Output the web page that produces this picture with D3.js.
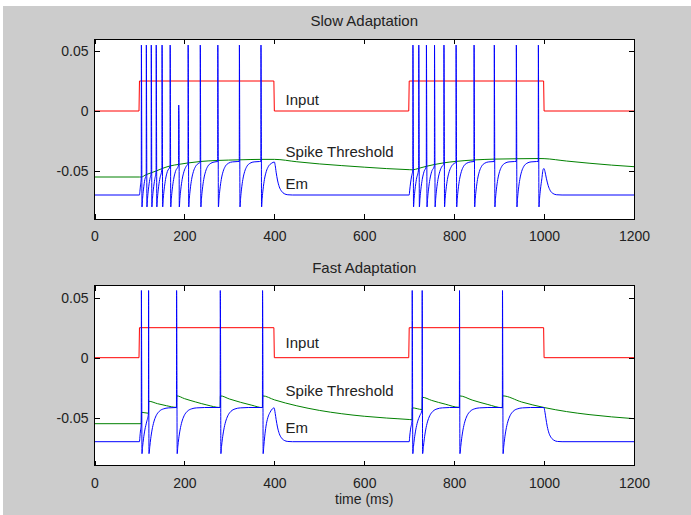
<!DOCTYPE html>
<html>
<head>
<meta charset="utf-8">
<script src="https://cdn.jsdelivr.net/npm/d3@7"></script>
<style>
  html, body { margin: 0; padding: 0; background: #ffffff; }
  svg { display: block; font-family: "Liberation Sans", Arial, Helvetica, sans-serif; }
  .axis path { display: none; }
  .axis line { stroke: #000; shape-rendering: crispEdges; }
  .axis text { fill: #222; font-size: 14px; }
</style>
</head>
<body>
<svg id="fig"></svg>
<script>
// axis ticks
const xTicks = [0, 200, 400, 600, 800, 1000, 1200];
const xTickLabels = ["0", "200", "400", "600", "800", "1000", "1200"];
const yTicks = [0.05, 0, -0.05];
const yTickLabels = ["0.05", "0", "-0.05"];

// panel titles and trace labels
const titles = ["Slow Adaptation", "Fast Adaptation"];
const traceLabels = ["Input", "Spike Threshold", "Em"];
const labelT = 425;
const labelYSlow = [0.0095, -0.034, -0.0605];
const labelYFast = [0.013, -0.027, -0.058];

// input current (same in both panels)
const inputTrace = [[0,0],[99,0],[100,0.025],[399,0.025],[400,0],[699,0],[700,0.025],[999,0.025],[1000,0],[1200,0]];

// slow adaptation: spike threshold
const thSlow = [[0,-0.055],[100,-0.055],[104,-0.055],[115,-0.053],[126,-0.0515],[137,-0.050],[150,-0.048],[168,-0.0458],
  [187,-0.0445],[208,-0.0433],[235,-0.0421],[274,-0.0412],[322,-0.0407],[370,-0.0403],[400,-0.0403],[450,-0.0423],
  [500,-0.0441],[550,-0.0455],[600,-0.0468],[650,-0.048],[700,-0.0489],[708,-0.049],[721,-0.0478],[738,-0.0461],
  [756,-0.0446],[777,-0.0432],[804,-0.042],[844,-0.0408],[889,-0.0401],[938,-0.0398],[987,-0.0396],[1000,-0.0397],
  [1050,-0.0417],[1100,-0.0435],[1150,-0.0451],[1200,-0.0464]];

// slow adaptation: membrane potential
const emSlow = [[0,-0.07],[100,-0.07],[101,-0.067],[102.5,-0.061],[104,-0.055],
  [104.3,0.055],[105,-0.013],[105.6,-0.08],[107,-0.0727],[109,-0.0651],[112,-0.057],[115,-0.053],
  [115.3,0.055],[116,-0.013],[116.6,-0.08],[118,-0.0727],[120,-0.0651],[123,-0.057],[126,-0.0515],
  [126.3,0.055],[127,-0.013],[127.6,-0.08],[129,-0.0727],[131,-0.0651],[134,-0.057],[137,-0.050],
  [137.3,0.055],[138,-0.013],[138.6,-0.08],[140,-0.0727],[142,-0.0651],[145,-0.057],[150,-0.048],
  [150.3,0.055],[151,-0.013],[151.6,-0.08],[153,-0.0727],[155,-0.0651],[158,-0.057],[162,-0.0505],[168,-0.046],
  [168.3,0.055],[169,-0.013],[169.6,-0.08],[171,-0.0727],[173,-0.0651],[176,-0.057],[180,-0.0505],[187,-0.045],
  [187.3,0.005],[188,-0.013],[188.6,-0.08],[190,-0.0727],[192,-0.0651],[195,-0.057],[199,-0.0505],[204,-0.0461],[208,-0.0438],
  [208.3,0.055],[209,-0.013],[209.6,-0.08],[211,-0.0727],[213,-0.0651],[216,-0.057],[220,-0.0505],[225,-0.0461],[232,-0.0435],[235,-0.0428],
  [235.3,0.055],[236,-0.013],[236.6,-0.08],[238,-0.0727],[240,-0.0651],[243,-0.057],[247,-0.0505],[252,-0.0461],[259,-0.0435],[268,-0.0424],[274,-0.0421],
  [274.3,0.055],[275,-0.013],[275.6,-0.08],[277,-0.0727],[279,-0.0651],[282,-0.057],[286,-0.0505],[291,-0.0461],[298,-0.0435],[307,-0.0424],[319,-0.0421],[322,-0.042],
  [322.3,0.055],[323,-0.013],[323.6,-0.08],[325,-0.0727],[327,-0.0651],[330,-0.057],[334,-0.0505],[339,-0.0461],[346,-0.0435],[355,-0.0424],[367,-0.0421],[370,-0.042],
  [370.3,0.055],[371,-0.013],[371.6,-0.08],[373,-0.0727],[375,-0.0651],[378,-0.057],[382,-0.0505],[387,-0.0461],[394,-0.0435],[400,-0.0425],
  [402,-0.0455],[404,-0.051],[407,-0.0575],[411,-0.0632],[416,-0.0668],[422,-0.0689],[430,-0.0698],[440,-0.07],[700,-0.07],
  [701,-0.0665],[703,-0.06],[705.5,-0.054],[708,-0.049],
  [708.3,0.055],[709,-0.013],[709.6,-0.08],[711,-0.0727],[713,-0.0651],[716,-0.057],[721,-0.048],
  [721.3,0.055],[722,-0.013],[722.6,-0.08],[724,-0.0727],[726,-0.0651],[729,-0.057],[733,-0.0505],[738,-0.046],
  [738.3,0.055],[739,-0.013],[739.6,-0.08],[741,-0.0727],[743,-0.0651],[746,-0.057],[750,-0.0505],[756,-0.0455],
  [756.3,0.055],[757,-0.013],[757.6,-0.08],[759,-0.0727],[761,-0.0651],[764,-0.057],[768,-0.0505],[773,-0.0461],[777,-0.0445],
  [777.3,0.055],[778,-0.013],[778.6,-0.08],[780,-0.0727],[782,-0.0651],[785,-0.057],[789,-0.0505],[794,-0.0461],[801,-0.0435],[804,-0.043],
  [804.3,0.055],[805,-0.013],[805.6,-0.08],[807,-0.0727],[809,-0.0651],[812,-0.057],[816,-0.0505],[821,-0.0461],[828,-0.0435],[837,-0.0424],[844,-0.0421],
  [844.3,0.055],[845,-0.013],[845.6,-0.08],[847,-0.0727],[849,-0.0651],[852,-0.057],[856,-0.0505],[861,-0.0461],[868,-0.0435],[877,-0.0424],[889,-0.0421],
  [889.3,0.055],[890,-0.013],[890.6,-0.08],[892,-0.0727],[894,-0.0651],[897,-0.057],[901,-0.0505],[906,-0.0461],[913,-0.0435],[922,-0.0424],[934,-0.0421],[938,-0.042],
  [938.3,0.055],[939,-0.013],[939.6,-0.08],[941,-0.0727],[943,-0.0651],[946,-0.057],[950,-0.0505],[955,-0.0461],[962,-0.0435],[971,-0.0424],[983,-0.0421],[987,-0.042],
  [987.3,0.055],[988,-0.013],[988.6,-0.08],[990,-0.0727],[992,-0.0651],[995,-0.0565],[998,-0.0485],[1000,-0.048],
  [1002,-0.0505],[1005,-0.056],[1009,-0.062],[1014,-0.0665],[1020,-0.0688],[1028,-0.0698],[1040,-0.07],[1200,-0.07]];

// fast adaptation: spike threshold
const thFast = [[0,-0.055],[104,-0.055],[104.5,-0.0455],[120,-0.0463],[120.5,-0.0363],[140,-0.0383],[160,-0.04],[182.3,-0.0414],
  [182.8,-0.0318],[200,-0.0341],[225,-0.0369],[250,-0.0394],[279.5,-0.0415],[280,-0.0318],[300,-0.0344],[325,-0.0372],
  [350,-0.0396],[373.5,-0.0416],[374,-0.0318],[400,-0.0351],[450,-0.0401],[500,-0.0439],[550,-0.0467],[600,-0.0488],
  [650,-0.0503],[700,-0.0515],[706.4,-0.0517],[706.9,-0.0418],[728.6,-0.0432],[729.1,-0.033],[750,-0.0356],[780,-0.0387],
  [811.6,-0.0414],[812.1,-0.0318],[840,-0.0353],[875,-0.039],[907.2,-0.0417],[907.7,-0.0318],[950,-0.0369],[1000,-0.0415],
  [1050,-0.0449],[1100,-0.0474],[1150,-0.0493],[1200,-0.0508]];

// fast adaptation: membrane potential
const emFast = [[0,-0.07],[100,-0.07],[101,-0.066],[102.5,-0.06],[104,-0.055],
  [104.3,0.056],[105,-0.0125],[105.6,-0.08],[107,-0.0741],[109,-0.0676],[112,-0.0602],[116,-0.0535],[120,-0.0465],
  [120.3,0.056],[121.2,-0.08],[123,-0.0741],[125,-0.0676],[128,-0.0602],[132,-0.0535],[137,-0.0484],[144,-0.0447],[153,-0.0427],[165,-0.0418],[182.3,-0.0415],
  [182.6,0.056],[183.3,-0.0125],[183.9,-0.08],[185.3,-0.0741],[187.3,-0.0676],[190.3,-0.0602],[194.3,-0.0535],[199.3,-0.0484],[206.3,-0.0447],[215.3,-0.0427],[227.3,-0.0418],[245,-0.0415],[279.5,-0.0415],
  [279.8,0.056],[280.5,0.005],[281.1,-0.08],[282.5,-0.0741],[284.5,-0.0676],[287.5,-0.0602],[291.5,-0.0535],[296.5,-0.0484],[303.5,-0.0447],[312.5,-0.0427],[324.5,-0.0418],[342,-0.0415],[373.5,-0.0415],
  [373.8,0.056],[374.5,0.005],[375.1,-0.08],[376.5,-0.074],[378.5,-0.066],[381.5,-0.057],[385.5,-0.050],[390.5,-0.0455],[396,-0.0425],[399.5,-0.0418],
  [402,-0.0465],[404,-0.0515],[407,-0.0578],[411,-0.0633],[416,-0.0669],[422,-0.0689],[430,-0.0698],[440,-0.07],[700,-0.07],
  [701,-0.066],[703,-0.0595],[706.4,-0.0517],
  [706.7,0.056],[707.4,-0.0125],[708,-0.08],[709.5,-0.0741],[711.5,-0.0676],[714.5,-0.0602],[718.5,-0.0535],[723.5,-0.0484],[728.6,-0.0435],
  [728.9,0.056],[729.8,-0.08],[731.6,-0.0741],[733.6,-0.0676],[736.6,-0.0602],[740.6,-0.0535],[745.6,-0.0484],[752.6,-0.0447],[761.6,-0.0427],[773.6,-0.0418],[790,-0.0415],[811.6,-0.0415],
  [811.9,0.056],[812.8,-0.08],[814.6,-0.0741],[816.6,-0.0676],[819.6,-0.0602],[823.6,-0.0535],[828.6,-0.0484],[835.6,-0.0447],[844.6,-0.0427],[856.6,-0.0418],[875,-0.0415],[907.2,-0.0415],
  [907.5,0.056],[908.2,-0.012],[908.8,-0.08],[910.2,-0.0741],[912.2,-0.0676],[915.2,-0.0602],[919.2,-0.0535],[924.2,-0.0484],[931.2,-0.0447],[940.2,-0.0427],[952.2,-0.0418],[970,-0.0415],[999.5,-0.0415],
  [1002,-0.0455],[1004,-0.0505],[1007,-0.0572],[1011,-0.063],[1016,-0.0667],[1022,-0.0688],[1030,-0.0698],[1040,-0.07],[1200,-0.07]];

const W = 691, H = 515;
const svg = d3.select("#fig").attr("width", W).attr("height", H);

// grey figure background (thin white strip top and left)
svg.append("rect").attr("x", 3).attr("y", 6).attr("width", W - 3).attr("height", H - 6).attr("fill", "#cccccc");

const left = 94.5, right = 634;
const panels = [
  { top: 39, bottom: 219, title: titles[0], th: thSlow, em: emSlow, labelY: labelYSlow },
  { top: 285.7, bottom: 465.7, title: titles[1], th: thFast, em: emFast, labelY: labelYFast }
];

const x = d3.scaleLinear().domain([0, 1200]).range([left, right]);

panels.forEach((p, pi) => {
  const y = d3.scaleLinear().domain([-0.09, 0.06]).range([p.bottom, p.top]);
  const g = svg.append("g");

  g.append("rect")
    .attr("x", left).attr("y", p.top)
    .attr("width", right - left).attr("height", p.bottom - p.top)
    .attr("fill", "#fff");

  const clipId = "clip" + pi;
  g.append("clipPath").attr("id", clipId)
    .append("rect").attr("x", left).attr("y", p.top)
    .attr("width", right - left).attr("height", p.bottom - p.top);

  const plot = g.append("g").attr("clip-path", `url(#${clipId})`);

  const stepLine = d3.line().x(d => x(d[0])).y(d => y(d[1]));
  const smoothLine = d3.line().x(d => x(d[0])).y(d => y(d[1])).curve(d3.curveMonotoneX);

  plot.append("path").datum(inputTrace).attr("d", stepLine)
    .attr("fill", "none").attr("stroke", "#ff0000").attr("stroke-width", 1);
  plot.append("path").datum(p.th).attr("d", smoothLine)
    .attr("fill", "none").attr("stroke", "#008000").attr("stroke-width", 1);
  plot.append("path").datum(p.em).attr("d", smoothLine)
    .attr("fill", "none").attr("stroke", "#0000ff").attr("stroke-width", 1);

  // axes, ticks pointing inward on all four sides
  g.append("g").attr("class", "axis")
    .attr("transform", `translate(0,${p.bottom})`)
    .call(d3.axisBottom(x).tickValues(xTicks).tickSizeInner(-5).tickSizeOuter(0).tickPadding(12)
      .tickFormat((d, i) => xTickLabels[i]));
  g.append("g").attr("class", "axis")
    .attr("transform", `translate(0,${p.top})`)
    .call(d3.axisTop(x).tickValues(xTicks).tickSizeInner(-5).tickSizeOuter(0).tickFormat(""));
  g.append("g").attr("class", "axis")
    .attr("transform", `translate(${left},0)`)
    .call(d3.axisLeft(y).tickValues(yTicks).tickSizeInner(-5).tickSizeOuter(0).tickPadding(6)
      .tickFormat((d, i) => yTickLabels[i]));
  g.append("g").attr("class", "axis")
    .attr("transform", `translate(${right},0)`)
    .call(d3.axisRight(y).tickValues(yTicks).tickSizeInner(-5).tickSizeOuter(0).tickFormat(""));

  g.append("rect")
    .attr("x", left).attr("y", p.top)
    .attr("width", right - left).attr("height", p.bottom - p.top)
    .attr("fill", "none").attr("stroke", "#000").attr("stroke-width", 1)
    .attr("shape-rendering", "crispEdges");

  g.append("text")
    .attr("x", (left + right) / 2).attr("y", p.top - 13)
    .attr("text-anchor", "middle").attr("font-size", 15).attr("fill", "#222")
    .text(p.title);

  traceLabels.forEach((t, i) => {
    g.append("text")
      .attr("x", x(labelT)).attr("y", y(p.labelY[i]))
      .attr("dy", "0.36em").attr("font-size", 15).attr("fill", "#222")
      .text(t);
  });
});

svg.append("text")
  .attr("x", (left + right) / 2).attr("y", 504)
  .attr("text-anchor", "middle").attr("font-size", 14).attr("fill", "#222")
  .text("time (ms)");
</script>
</body>
</html>
